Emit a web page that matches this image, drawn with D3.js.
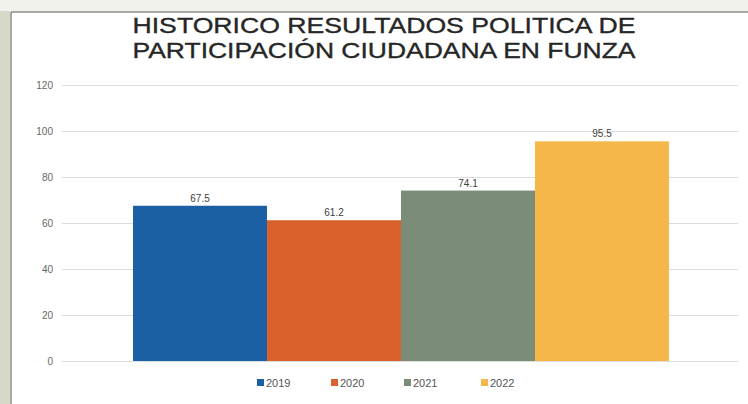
<!DOCTYPE html>
<html><head><meta charset="utf-8">
<script src="https://cdn.jsdelivr.net/npm/d3@7/dist/d3.min.js"></script>
<style>html,body{margin:0;padding:0;background:#fff;}svg{display:block;}</style>
</head><body><svg id="c" width="748" height="404"></svg>
<script>
const titleLines = ["HISTORICO RESULTADOS POLITICA DE", "PARTICIPACIÓN CIUDADANA EN FUNZA"];
const years = ["2019", "2020", "2021", "2022"];
const values = [67.5, 61.2, 74.1, 95.5];
const valueLabels = ["67.5", "61.2", "74.1", "95.5"];
const yTicks = [0, 20, 40, 60, 80, 100, 120];
const colors = ["#1b5fa5", "#d9622c", "#7b8c79", "#f5b74a"];

const svg = d3.select("#c");
const W = 748, H = 404;
const font = "'Liberation Sans', Arial, sans-serif";

// photo-like surroundings
svg.append("rect").attr("width", W).attr("height", H).attr("fill", "#fdfdfb");
svg.append("rect").attr("x", 0).attr("y", 0).attr("width", 10).attr("height", H).attr("fill", "#d6d9c6");
svg.append("rect").attr("x", 0).attr("y", 0).attr("width", W).attr("height", 11).attr("fill", "#f1f1ec");
svg.append("line").attr("x1", 11).attr("x2", W).attr("y1", 12).attr("y2", 12).attr("stroke", "#8a8a8a").attr("stroke-width", 1.5);
svg.append("line").attr("x1", 11).attr("x2", 11).attr("y1", 12).attr("y2", H).attr("stroke", "#8a8a8a").attr("stroke-width", 1.5);
svg.append("rect").attr("x", 12).attr("y", 13).attr("width", W - 12).attr("height", H - 13).attr("fill", "#ffffff");

// title
const tl = svg.append("g");
titleLines.forEach((t, i) => {
  tl.append("text").attr("x", 384).attr("y", 33 + i * 25)
    .attr("text-anchor", "middle").attr("font-family", font)
    .attr("font-size", 22).attr("fill", "#262626")
    .attr("stroke", "#262626").attr("stroke-width", 0.35)
    .attr("textLength", 503).attr("lengthAdjust", "spacingAndGlyphs")
    .text(t);
});

const y = d3.scaleLinear().domain([0, 120]).range([361, 85]);
const x = d3.scaleBand().domain(years).range([133, 669]).padding(0);

// gridlines and y axis
const yAxis = d3.axisLeft(y).tickValues(yTicks).tickSize(-(738 - 62)).tickPadding(9);
const ga = svg.append("g").attr("transform", "translate(62,0)").call(yAxis);
ga.select(".domain").remove();
ga.selectAll(".tick line").attr("stroke", "#dcdcdc").attr("stroke-width", 1);
ga.selectAll(".tick text").attr("font-family", font).attr("font-size", 10).attr("fill", "#666");

// bars
svg.append("g").selectAll("rect").data(values).join("rect")
  .attr("x", (d, i) => x(years[i]))
  .attr("width", x.bandwidth())
  .attr("y", d => y(d))
  .attr("height", d => y(0) - y(d))
  .attr("fill", (d, i) => colors[i]);

// data labels
svg.append("g").selectAll("text").data(values).join("text")
  .attr("x", (d, i) => x(years[i]) + x.bandwidth() / 2)
  .attr("y", d => y(d) - 4)
  .attr("text-anchor", "middle").attr("font-family", font)
  .attr("font-size", 10).attr("fill", "#404040")
  .text((d, i) => valueLabels[i]);

// legend
const legX = [257, 331, 404, 481];
const lg = svg.append("g");
years.forEach((yr, i) => {
  lg.append("rect").attr("x", legX[i]).attr("y", 379).attr("width", 7).attr("height", 7).attr("fill", colors[i]);
  lg.append("text").attr("x", legX[i] + 9).attr("y", 386.5)
    .attr("font-family", font).attr("font-size", 11).attr("fill", "#555").text(yr);
});
</script>
</body></html>
